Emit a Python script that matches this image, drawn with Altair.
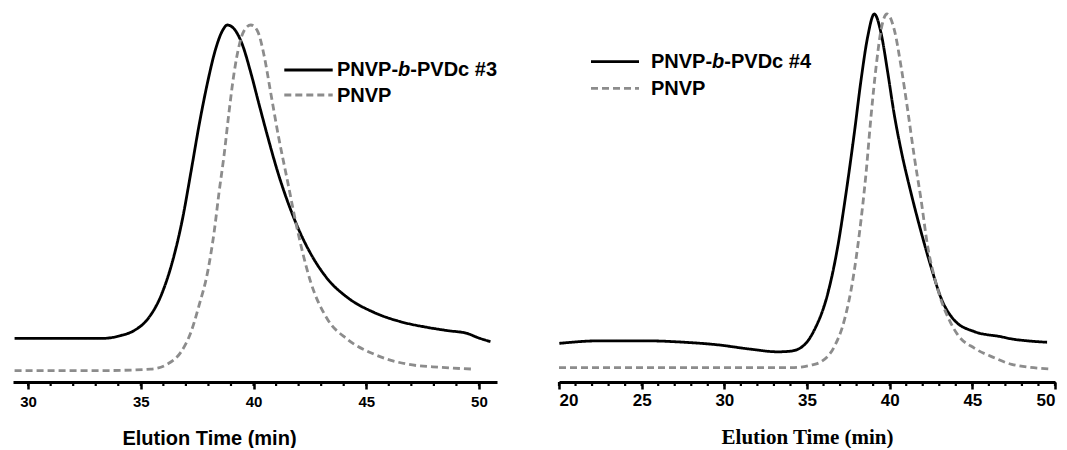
import altair as alt
import pandas as pd

# ---------------- data ----------------
SERIES_L = ["PNVP-b-PVDc #3", "PNVP"]
SERIES_R = ["PNVP-b-PVDc #4", "PNVP"]

t_b3 = [29.40, 33.23, 34.11, 34.70, 35.30, 35.89, 36.41, 36.85, 37.22, 37.58, 37.96,
        38.32, 38.62, 38.84, 39.14, 39.51, 39.88, 40.24, 40.62, 41.06, 41.65, 42.09,
        42.54, 43.28, 44.16, 45.34, 46.52, 47.71, 48.60, 49.48, 49.92, 50.51]
i_b3 = [0.122, 0.122, 0.130, 0.144, 0.176, 0.241, 0.339, 0.457, 0.587, 0.718, 0.839,
        0.933, 0.984, 1.000, 0.989, 0.944, 0.866, 0.779, 0.689, 0.591, 0.482, 0.415,
        0.359, 0.289, 0.237, 0.195, 0.169, 0.153, 0.144, 0.136, 0.125, 0.113]

t_p3 = [29.40, 33.23, 35.44, 36.18, 36.77, 37.22, 37.58, 37.96, 38.25, 38.47, 38.69,
        38.91, 39.14, 39.36, 39.58, 39.88, 40.17, 40.47, 40.76, 41.10, 41.50, 41.95,
        42.54, 43.28, 44.16, 45.34, 46.82, 48.30, 49.77]
i_p3 = [0.032, 0.032, 0.036, 0.050, 0.083, 0.139, 0.214, 0.307, 0.419, 0.531, 0.634,
        0.755, 0.867, 0.942, 0.984, 1.000, 0.984, 0.914, 0.811, 0.690, 0.565, 0.425,
        0.279, 0.176, 0.120, 0.078, 0.050, 0.041, 0.036]

t_b4 = [20.02, 22.54, 25.16, 27.58, 29.60, 31.62, 33.23, 34.04, 34.84, 35.44, 36.26,
        36.86, 37.36, 37.86, 38.27, 38.67, 39.07, 39.48, 39.88, 40.28, 40.69, 41.29,
        41.90, 42.50, 43.11, 43.91, 45.12, 46.74, 47.38, 48.30, 49.52]
i_b4 = [0.105, 0.112, 0.112, 0.108, 0.101, 0.089, 0.082, 0.084, 0.101, 0.141, 0.241,
        0.368, 0.513, 0.676, 0.821, 0.938, 1.000, 0.948, 0.842, 0.726, 0.630, 0.514,
        0.408, 0.313, 0.228, 0.168, 0.137, 0.123, 0.117, 0.112, 0.108]

t_p4 = [20.00, 34.04, 35.25, 35.85, 36.65, 37.26, 37.77, 38.17, 38.57, 38.87, 39.18,
        39.48, 39.84, 40.28, 40.69, 41.09, 41.49, 41.90, 42.30, 42.70, 43.11, 43.61,
        44.12, 45.12, 46.33, 47.38, 49.82]
i_p4 = [0.039, 0.039, 0.046, 0.055, 0.096, 0.168, 0.277, 0.404, 0.567, 0.721, 0.857,
        0.957, 1.000, 0.957, 0.857, 0.739, 0.612, 0.495, 0.368, 0.286, 0.223, 0.168,
        0.128, 0.092, 0.066, 0.048, 0.035]

ticks_l = [30, 35, 40, 45, 50]
ticks_r = [20, 25, 30, 35, 40, 45, 50]
minor_l = list(range(30, 51))
minor_r = list(range(20, 51))

BLACK = "#000000"
GRAY = "#8c8c8c"
SANS = "Liberation Sans"
SERIF = "Liberation Serif"
H = 374


def curves(ts, ys, names):
    rows = []
    for t, y, n in zip(ts, ys, names):
        for a, b in zip(t, y):
            rows.append({"t": a, "I": b, "series": n})
    return pd.DataFrame(rows)


def legend_layers(series, x0, y_line, x_text, y_text):
    layers = []
    one = pd.DataFrame({"k": [0]})
    for j, name in enumerate(series):
        dash = [1, 0] if j == 0 else [7, 4]
        col = BLACK if j == 0 else GRAY
        layers.append(
            alt.Chart(one).mark_rule(color=col, strokeWidth=2.8, strokeDash=dash).encode(
                x=alt.value(x0[0]), x2=alt.value(x0[1]), y=alt.value(y_line[j])
            )
        )
        if "-b-" in name:
            pre, post = name.split("-b-")
            parts = [(pre + "-", "normal", 0.0), ("b", "italic", 61.1), ("-" + post, "normal", 73.3)]
        else:
            parts = [(name, "normal", 0.0)]
        for txt, style, dx in parts:
            layers.append(
                alt.Chart(one).mark_text(
                    align="left", baseline="alphabetic", font=SANS, fontSize=20,
                    fontWeight="bold", fontStyle=style, color=BLACK, text=txt,
                ).encode(x=alt.value(x_text + dx), y=alt.value(y_text[j]))
            )
    return layers


def panel(df, series, domain, ticks, minor, width, ymax, label_size, label_pad,
          title_font, title_size, title_x, title_y, legend):
    xscale = alt.Scale(domain=domain, nice=False, zero=False)
    yscale = alt.Scale(domain=[0, ymax], nice=False, zero=True)
    axis = alt.Axis(
        values=ticks, grid=False, domainColor=BLACK, domainWidth=3, tickColor=BLACK,
        tickWidth=2.5, tickSize=7, labelFont=SANS, labelFontSize=label_size,
        labelFontWeight="bold", labelColor=BLACK, labelPadding=label_pad,
        title="Elution Time (min)", titleFont=title_font, titleFontSize=title_size,
        titleFontWeight="bold", titleColor=BLACK, titleY=title_y,
        titleBaseline="alphabetic", titleAlign="center",
        **({"titleX": title_x} if title_x is not None else {}),
    )
    lines = alt.Chart(df).mark_line(strokeWidth=2.8, interpolate="monotone").encode(
        x=alt.X("t:Q", scale=xscale, axis=axis),
        y=alt.Y("I:Q", scale=yscale, axis=None),
        color=alt.Color("series:N", scale=alt.Scale(domain=series, range=[BLACK, GRAY]), legend=None),
        strokeDash=alt.StrokeDash("series:N", scale=alt.Scale(domain=series, range=[[1, 0], [7, 4]]), legend=None),
        order=alt.Order("t:Q"),
    )
    mt = alt.Chart(pd.DataFrame({"t": minor})).mark_rule(color=BLACK, strokeWidth=2.2).encode(
        x=alt.X("t:Q", scale=xscale, axis=axis),
        y=alt.value(H), y2=alt.value(H + 4),
    )
    return alt.layer(lines, mt, *legend).properties(width=width, height=H)


df_l = curves([t_b3, t_p3], [i_b3, i_p3], SERIES_L)
df_r = curves([t_b4, t_p4], [i_b4, i_p4], SERIES_R)

left = panel(
    df_l, SERIES_L, [29.33, 50.8], ticks_l, minor_l, 484, 374 / 357, 15, 5,
    SANS, 20, 196, 62,
    legend_layers(SERIES_L, (271.3, 319.7), [62, 87], 324, [68, 93.7]),
)
right = panel(
    df_r, SERIES_R, [20, 50], ticks_r, minor_r, 496, 374 / 368, 17, 3.5,
    SERIF, 21, None, 61,
    legend_layers(SERIES_R, (32, 80), [53.7, 80.3], 92, [60.3, 87]),
)

chart = alt.hconcat(left, right, spacing=62, bounds="flush").properties(
    padding={"left": 0, "top": 0, "right": 0, "bottom": 0}
).configure_view(stroke=None)

chart.save("out.html", embed_options={"renderer": "svg", "actions": False})
